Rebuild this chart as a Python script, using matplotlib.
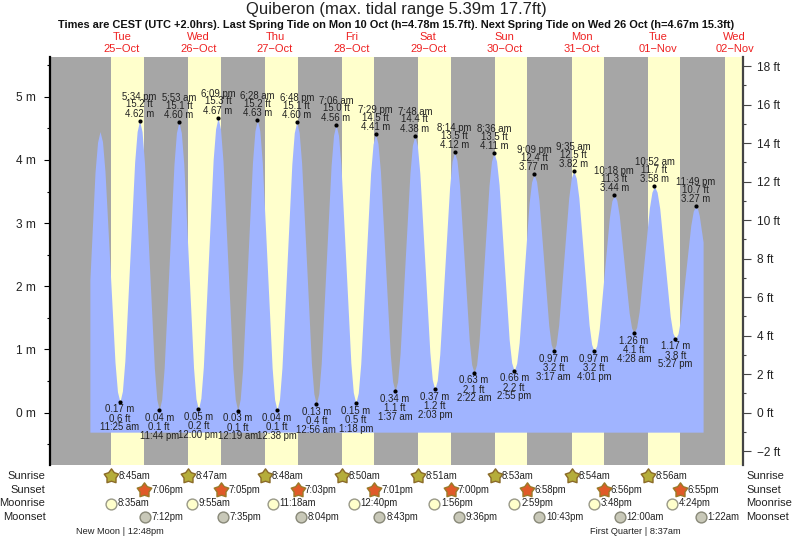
import matplotlib
matplotlib.use('Agg')
from matplotlib import pyplot as plt
from matplotlib.path import Path
from matplotlib.transforms import blended_transform_factory
from matplotlib.ticker import MultipleLocator

plt.rcParams['font.family'] = ['Liberation Sans', 'DejaVu Sans']

# all times are hours since 25 Oct 00:00
tide_hours = [2.0, 3.6, 4.4, 5.17, 5.95, 6.73, 8.3, 9.86, 10.64, 11.42, 12.19, 12.96, 14.5, 16.03, 16.8, 17.57, 18.34,
              19.11, 20.65, 22.19, 22.96, 23.73, 24.5, 25.27, 26.8, 28.34, 29.11, 29.88, 30.65, 31.41, 32.94, 34.47,
              35.23, 36.0, 36.77, 37.54, 39.08, 40.61, 41.38, 42.15, 42.92, 43.69, 45.24, 46.78, 47.55, 48.32, 49.09,
              49.86, 51.4, 52.93, 53.7, 54.47, 55.24, 56.01, 57.55, 59.09, 59.86, 60.63, 61.4, 62.17, 63.72, 65.26,
              66.03, 66.8, 67.57, 68.33, 69.87, 71.4, 72.16, 72.93, 73.7, 74.47, 76.02, 77.56, 78.33, 79.1, 79.88,
              80.65, 82.2, 83.75, 84.52, 85.3, 86.07, 86.85, 88.39, 89.94, 90.71, 91.48, 92.25, 93.02, 94.55, 96.09,
              96.85, 97.62, 98.39, 99.17, 100.71, 102.26, 103.03, 103.8, 104.58, 105.36, 106.93, 108.49, 109.27,
              110.05, 110.82, 111.6, 113.14, 114.69, 115.46, 116.23, 117.0, 117.77, 119.3, 120.84, 121.6, 122.37,
              123.15, 123.93, 125.49, 127.04, 127.82, 128.6, 129.39, 130.18, 131.76, 133.34, 134.13, 134.92, 135.7,
              136.48, 138.04, 139.59, 140.37, 141.15, 141.92, 142.68, 144.22, 145.75, 146.51, 147.28, 148.07, 148.86,
              150.43, 152.0, 152.79, 153.58, 154.38, 155.18, 156.78, 158.38, 159.18, 159.98, 160.77, 161.56, 163.14,
              164.72, 165.51, 166.3, 167.07, 167.84, 169.39, 170.93, 171.7, 172.47, 173.27, 174.07, 175.67, 177.27,
              178.07, 178.87, 179.69, 180.52, 182.16, 183.81, 184.63, 185.45, 186.25, 187.04, 188.64, 190.23, 191.02,
              191.82, 192.4, 192.9, 194.1]
tide_m = [2.1, 3.8, 4.28, 4.45, 4.29, 3.82, 2.31, 0.80, 0.33, 0.17, 0.34, 0.82, 2.40, 3.97, 4.45, 4.62, 4.45,
          3.95, 2.33, 0.71, 0.21, 0.04, 0.21, 0.71, 2.32, 3.93, 4.43, 4.60, 4.43, 3.94, 2.33, 0.71,
          0.22, 0.05, 0.23, 0.72, 2.36, 4.00, 4.49, 4.67, 4.49, 3.99, 2.35, 0.71, 0.21, 0.03, 0.21,
          0.70, 2.33, 3.96, 4.46, 4.63, 4.46, 3.96, 2.34, 0.71, 0.21, 0.04, 0.21, 0.71, 2.32, 3.93,
          4.43, 4.60, 4.43, 3.95, 2.37, 0.78, 0.30, 0.13, 0.30, 0.78, 2.35, 3.91, 4.39, 4.56, 4.39,
          3.92, 2.36, 0.79, 0.32, 0.15, 0.31, 0.77, 2.28, 3.79, 4.25, 4.41, 4.26, 3.82, 2.38, 0.93,
          0.49, 0.34, 0.49, 0.93, 2.36, 3.79, 4.23, 4.38, 4.23, 3.79, 2.38, 0.96, 0.52,
          0.37, 0.51, 0.92, 2.25, 3.57, 3.98, 4.12, 3.99, 3.61, 2.38, 1.14, 0.76, 0.63,
          0.76, 1.14, 2.37, 3.60, 3.98, 4.11, 3.98, 3.61, 2.39, 1.16, 0.79, 0.66, 0.78,
          1.11, 2.22, 3.32, 3.65, 3.77, 3.66, 3.36, 2.37, 1.38, 1.08, 0.97, 1.08, 1.39,
          2.40, 3.40, 3.71, 3.82, 3.71, 3.40, 2.40, 1.39, 1.08, 0.97, 1.06, 1.33, 2.21,
          3.08, 3.35, 3.44, 3.36, 3.12, 2.35, 1.58, 1.34, 1.26, 1.35, 1.60, 2.42, 3.24,
          3.49, 3.58, 3.49, 3.23, 2.38, 1.52, 1.26, 1.17, 1.25, 1.48, 2.22, 2.96, 3.19,
          3.27, 3.22, 3.12, 2.70]
water_floor_m = -0.31

high_hours = [17.57, 29.88, 42.15, 54.47, 66.8, 79.1, 91.48, 103.8, 116.23, 128.6, 141.15, 153.58, 166.3, 178.87, 191.82]
high_m = [4.62, 4.60, 4.67, 4.63, 4.60, 4.56, 4.41, 4.38, 4.12, 4.11, 3.77, 3.82, 3.44, 3.58, 3.27]
high_ft = ['15.2', '15.1', '15.3', '15.2', '15.1', '15.0', '14.5', '14.4', '13.5', '13.5', '12.4', '12.5', '11.3', '11.7', '10.7']
high_times = ['5:34 pm', '5:53 am', '6:09 pm', '6:28 am', '6:48 pm', '7:06 am', '7:29 pm', '7:48 am', '8:14 pm',
              '8:36 am', '9:09 pm', '9:35 am', '10:18 pm', '10:52 am', '11:49 pm']

low_hours = [11.42, 23.73, 36.0, 48.32, 60.63, 72.93, 85.3, 97.62, 110.05, 122.37, 134.92, 147.28, 159.98, 172.47, 185.45]
low_m = [0.17, 0.04, 0.05, 0.03, 0.04, 0.13, 0.15, 0.34, 0.37, 0.63, 0.66, 0.97, 0.97, 1.26, 1.17]
low_ft = ['0.6', '0.1', '0.2', '0.1', '0.1', '0.4', '0.5', '1.1', '1.2', '2.1', '2.2', '3.2', '3.2', '4.1', '3.8']
low_times = ['11:25 am', '11:44 pm', '12:00 pm', '12:19 am', '12:38 pm', '12:56 am', '1:18 pm', '1:37 am', '2:03 pm',
             '2:22 am', '2:55 pm', '3:17 am', '4:01 pm', '4:28 am', '5:27 pm']

day_names = ['Tue', 'Wed', 'Thu', 'Fri', 'Sat', 'Sun', 'Mon', 'Tue', 'Wed']
day_dates = ['25\u2212Oct', '26\u2212Oct', '27\u2212Oct', '28\u2212Oct', '29\u2212Oct', '30\u2212Oct', '31\u2212Oct',
             '01\u2212Nov', '02\u2212Nov']

sunrise_hours = [8.75, 32.78, 56.80, 80.83, 104.85, 128.88, 152.90, 176.93, 200.97]
sunrise_labels = ['8:45am', '8:47am', '8:48am', '8:50am', '8:51am', '8:53am', '8:54am', '8:56am']
sunset_hours = [19.10, 43.08, 67.05, 91.02, 115.0, 138.97, 162.93, 186.92]
sunset_labels = ['7:06pm', '7:05pm', '7:03pm', '7:01pm', '7:00pm', '6:58pm', '6:56pm', '6:55pm']
moonrise_hours = [8.58, 33.92, 59.30, 84.67, 109.93, 134.98, 159.80, 184.40]
moonrise_labels = ['8:35am', '9:55am', '11:18am', '12:40pm', '1:56pm', '2:59pm', '3:48pm', '4:24pm']
moonset_hours = [19.20, 43.58, 68.07, 92.72, 117.60, 142.72, 168.0, 193.37]
moonset_labels = ['7:12pm', '7:35pm', '8:04pm', '8:43pm', '9:36pm', '10:43pm', '12:00am', '1:22am']

W, H = 793, 539
GRAY = '#a6a6a6'
YELLOW = '#ffffcc'
BLUE = '#a0b4ff'
TXT = '#222222'

fig = plt.figure(figsize=(W / 100, H / 100), dpi=100)
ax = fig.add_axes([49.5 / W, 1 - 465 / H, (743 - 49.5) / W, (465 - 57) / H])
ax.set_facecolor(GRAY)
ax.set_xlim(-10.65, 206.6)
ymin, ymax = -0.83, 5.63
ax.set_ylim(ymin, ymax)

# daylight bands
for i, rise in enumerate(sunrise_hours):
    end = sunset_hours[i] if i < len(sunset_hours) else 206.6
    ax.axvspan(rise, end, color=YELLOW, lw=0, zorder=1)

ax.fill_between(tide_hours, water_floor_m, tide_m, color=BLUE, lw=0, zorder=2)
ax.plot(high_hours + low_hours, high_m + low_m, 'o', color='black', ms=3, mew=0, zorder=3)

lab = dict(ha='center', va='center', fontsize=6.9, color=TXT, textcoords='offset pixels', zorder=4, annotation_clip=False)
for t, m, ft, s in zip(high_hours, high_m, high_ft, high_times):
    ax.annotate('%.2f m' % m, (t, m), xytext=(0, 7), **lab)
    ax.annotate(ft + ' ft', (t, m), xytext=(0, 16.5), **lab)
    ax.annotate(s, (t, m), xytext=(0, 24), **lab)
for t, m, ft, s in zip(low_hours, low_m, low_ft, low_times):
    ax.annotate('%.2f m' % m, (t, m), xytext=(0, -7.5), **lab)
    ax.annotate(ft + ' ft', (t, m), xytext=(0, -17), **lab)
    ax.annotate(s, (t, m), xytext=(0, -25.5), **lab)

for side in ['top', 'bottom']:
    ax.spines[side].set_visible(False)
ax.spines['left'].set_linewidth(1.6)
ax.spines['right'].set_visible(False)
ax.set_xticks([])
ax.yaxis.set_minor_locator(MultipleLocator(0.5))
ax.set_yticks([0, 1, 2, 3, 4, 5])
ax.set_yticklabels(['%d m' % v for v in [0, 1, 2, 3, 4, 5]])
ax.tick_params(axis='y', which='major', length=4.5, width=0.8, labelsize=8.6, labelcolor=TXT, pad=5.5)
ax.tick_params(axis='y', which='minor', length=2.5, width=0.8)

ax2 = ax.twinx()
ax2.set_ylim(ymin * 3.28084, ymax * 3.28084)
ax2.set_xticks([])
for side in ['top', 'bottom', 'left']:
    ax2.spines[side].set_visible(False)
ax2.spines['right'].set_linewidth(1.6)
ax2.spines['right'].set_color('#444444')
ft_ticks = [-2, 0, 2, 4, 6, 8, 10, 12, 14, 16, 18]
ax2.set_yticks(ft_ticks)
ax2.set_yticklabels([('\u2212%d ft' % -v) if v < 0 else '%d ft' % v for v in ft_ticks])
ax2.yaxis.set_minor_locator(MultipleLocator(1))
ax2.tick_params(axis='y', which='major', length=5.5, width=0.8, labelsize=8.6, labelcolor=TXT, pad=4.5, color='#444444')
ax2.tick_params(axis='y', which='minor', length=2.5, width=0.8, color='#444444')

# everything below and above the plot: x from the data, y in figure pixels
tr = blended_transform_factory(ax.transData, fig.transFigure)


def fy(py):
    return 1 - py / H


fig.text(396 / W, fy(9.5), 'Quiberon (max. tidal range 5.39m 17.7ft)', ha='center', va='center', fontsize=12, color=TXT)
fig.text(396.5 / W, fy(25), 'Times are CEST (UTC +2.0hrs). Last Spring Tide on Mon 10 Oct (h=4.78m 15.7ft). '
         'Next Spring Tide on Wed 26 Oct (h=4.67m 15.3ft)', ha='center', va='center', fontsize=7.9,
         fontweight='bold', color='#111111')
for i, (name, date) in enumerate(zip(day_names, day_dates)):
    ax.text(12 + 24 * i, fy(37.5), name, transform=tr, ha='center', va='center', fontsize=8, color='#ee2222', clip_on=False)
    ax.text(12 + 24 * i, fy(49), date, transform=tr, ha='center', va='center', fontsize=8, color='#ee2222', clip_on=False)

fat_star = Path.unit_regular_star(5, innerCircle=0.62)
rows = [(476, 'Sunrise', sunrise_hours[:8], sunrise_labels, fat_star, '#b5ad3a', '#8a6a28', 11),
        (490, 'Sunset', sunset_hours, sunset_labels, fat_star, '#e05a28', '#9a7a28', 11),
        (503.5, 'Moonrise', moonrise_hours, moonrise_labels, 'o', '#ffffcc', '#999988', 7.8),
        (517, 'Moonset', moonset_hours, moonset_labels, 'o', '#c8c8b8', '#888878', 7.8)]
for py, name, hours, labels, marker, fc, ec, ms in rows:
    fig.text(45.5 / W, fy(py), name, ha='right', va='center', fontsize=8, color=TXT)
    fig.text(746.5 / W, fy(py), name, ha='left', va='center', fontsize=8, color=TXT)
    for t, s in zip(hours, labels):
        ax.plot([t], [fy(py)], marker=marker, ms=ms, mfc=fc, mec=ec, mew=1, transform=tr, clip_on=False, zorder=5)
        ax.annotate(s, (t, fy(py)), xycoords=tr, xytext=(7, 0), textcoords='offset pixels', ha='left', va='center',
                    fontsize=6.9, color=TXT, annotation_clip=False)

fig.text(120 / W, fy(531), 'New Moon | 12:48pm', ha='center', va='center', fontsize=6.7, color=TXT)
fig.text(635.5 / W, fy(531), 'First Quarter | 8:37am', ha='center', va='center', fontsize=6.7, color=TXT)

fig.savefig('out.png', dpi=100)
